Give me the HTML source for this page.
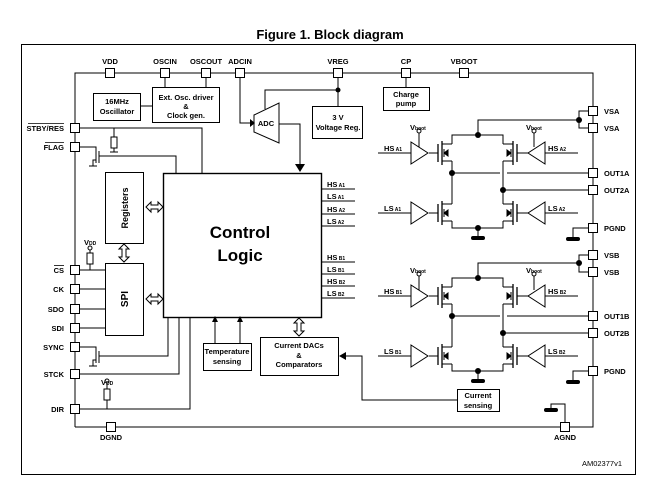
<!DOCTYPE html>
<html><head><meta charset="utf-8"><style>
html,body{margin:0;padding:0;background:#fff;}
svg{display:block;font-family:"Liberation Sans",Arial,sans-serif;font-weight:bold;}
</style></head><body>
<svg width="661" height="488" viewBox="0 0 661 488" xmlns="http://www.w3.org/2000/svg">
<defs>
<g id="fetL">
 <line x1="438" y1="144" x2="438" y2="162" stroke="#000" stroke-width="1.3"/>
 <line x1="442" y1="141" x2="442" y2="165" stroke="#000" stroke-width="1.3"/>
 <polyline points="442,144 452,144" fill="none" stroke="#000"/>
 <polyline points="442,161 452,161" fill="none" stroke="#000"/>
 <line x1="429" y1="153" x2="438" y2="153" stroke="#000"/>
 <polygon points="444,153 448,150 448,156" fill="#000"/>
 <line x1="444" y1="149" x2="444" y2="157" stroke="#000"/>
</g>
<g id="fetR">
 <line x1="517" y1="144" x2="517" y2="162" stroke="#000" stroke-width="1.3"/>
 <line x1="513" y1="141" x2="513" y2="165" stroke="#000" stroke-width="1.3"/>
 <polyline points="513,144 503,144" fill="none" stroke="#000"/>
 <polyline points="513,161 503,161" fill="none" stroke="#000"/>
 <line x1="517" y1="153" x2="528" y2="153" stroke="#000"/>
 <polygon points="511,153 507,150 507,156" fill="#000"/>
 <line x1="511" y1="149" x2="511" y2="157" stroke="#000"/>
</g>
<g id="bridge" stroke="#000" fill="none" stroke-width="1">
 <polyline points="579,120 478,120 478,135"/>
 <polyline points="452,144 452,135 503,135 503,144"/>
 <line x1="452" y1="161" x2="452" y2="204"/>
 <line x1="503" y1="161" x2="503" y2="204"/>
 <polyline points="452,221 452,228 503,228 503,221"/>
 <line x1="452" y1="173" x2="500" y2="173"/>
 <line x1="507" y1="173" x2="588" y2="173"/>
 <line x1="503" y1="190" x2="588" y2="190"/>
 <line x1="478" y1="228" x2="478" y2="236"/>
 <use href="#fetL"/><use href="#fetR"/>
 <use href="#fetL" transform="translate(0,60)"/><use href="#fetR" transform="translate(0,60)"/>
 <polygon points="411,142 411,164 428,153"/>
 <polygon points="545,142 545,164 528,153"/>
 <polygon points="411,202 411,224 428,213"/>
 <polygon points="545,202 545,224 528,213"/>
 <line x1="378" y1="153" x2="411" y2="153"/>
 <line x1="545" y1="153" x2="578" y2="153"/>
 <line x1="378" y1="213" x2="411" y2="213"/>
 <line x1="545" y1="213" x2="578" y2="213"/>
 <line x1="419" y1="133" x2="419" y2="147"/>
 <line x1="534" y1="133" x2="534" y2="147"/>
 <circle cx="419" cy="131" r="2"/><circle cx="534" cy="131" r="2"/>
 <polyline points="588,228 573,228 573,238"/>
</g>
</defs>

<text x="330" y="39" font-size="13" text-anchor="middle">Figure 1. Block diagram</text>
<rect x="21.5" y="44.5" width="614" height="430" fill="none" stroke="#000" stroke-width="1"/>

<g stroke="#000" fill="none" stroke-width="1">
 <polyline points="75,427 75,73 593,73 593,427 75,427"/>
 <rect x="93.5" y="93.5" width="47" height="27"/>
 <rect x="152.5" y="87.5" width="67" height="35"/>
 <line x1="140" y1="106" x2="152" y2="106"/>
 <line x1="165" y1="73" x2="165" y2="87"/>
 <line x1="206" y1="73" x2="206" y2="87"/>
 <polygon points="254,115 279,103 279,143 254,132"/>
 <polyline points="240,73 240,123 252,123"/>
 <polyline points="265,109 265,90 338,90"/>
 <polyline points="279,124 300,124 300,165"/>
 <line x1="338" y1="73" x2="338" y2="106"/>
 <rect x="312.5" y="106.5" width="50" height="32"/>
 <rect x="383.5" y="87.5" width="46" height="23"/>
 <line x1="406" y1="73" x2="406" y2="87"/>
 <polyline points="75,128 202,128 202,173"/>
 <line x1="114" y1="128" x2="114" y2="137"/>
 <rect x="111" y="137" width="6" height="11"/>
 <line x1="114" y1="148" x2="114" y2="152"/><line x1="110" y1="152" x2="118" y2="152"/>
 <polyline points="75,147 96,147 96,151"/>
 <line x1="96" y1="151" x2="96" y2="163"/>
 <line x1="99" y1="151" x2="99" y2="163"/>
 <polyline points="96,160 93,160 93,166"/><line x1="89" y1="166" x2="97" y2="166"/>
 <polyline points="99,156 176,156 176,173"/>
 <rect x="105.5" y="172.5" width="38" height="71"/>
 <rect x="105.5" y="263.5" width="38" height="72"/>
 <rect x="163.5" y="173.5" width="158" height="144" stroke-width="1.4"/>
 <line x1="75" y1="270" x2="105" y2="270"/>
 <line x1="75" y1="289" x2="105" y2="289"/>
 <line x1="75" y1="309" x2="105" y2="309"/>
 <line x1="75" y1="328" x2="105" y2="328"/>
 <line x1="90" y1="250" x2="90" y2="253"/>
 <rect x="87" y="253" width="6" height="11"/>
 <line x1="90" y1="264" x2="90" y2="270"/>
 <circle cx="90" cy="248" r="2"/>
 <polyline points="75,347 96,347 96,351"/>
 <line x1="96" y1="351" x2="96" y2="363"/>
 <line x1="99" y1="351" x2="99" y2="363"/>
 <polyline points="96,360 93,360 93,366"/><line x1="89" y1="366" x2="97" y2="366"/>
 <polyline points="99,356 168,356 168,317"/>
 <polyline points="75,374 179,374 179,317"/>
 <polyline points="75,409 190,409 190,317"/>
 <circle cx="107" cy="381" r="2"/>
 <line x1="107" y1="383" x2="107" y2="389"/>
 <rect x="104" y="389" width="6" height="11"/>
 <line x1="107" y1="400" x2="107" y2="409"/>
 <rect x="203.5" y="343.5" width="48" height="27"/>
 <line x1="215" y1="343" x2="215" y2="320"/>
 <line x1="240" y1="343" x2="240" y2="320"/>
 <rect x="260.5" y="337.5" width="78" height="38"/>
 <polyline points="343,356 362,356 362,400 457,400"/>
 <rect x="457.5" y="389.5" width="42" height="22"/>
 <line x1="321" y1="189" x2="355" y2="189"/>
 <line x1="321" y1="201" x2="355" y2="201"/>
 <line x1="321" y1="214" x2="355" y2="214"/>
 <line x1="321" y1="226" x2="355" y2="226"/>
 <line x1="321" y1="262" x2="355" y2="262"/>
 <line x1="321" y1="274" x2="355" y2="274"/>
 <line x1="321" y1="286" x2="355" y2="286"/>
 <line x1="321" y1="298" x2="355" y2="298"/>
 <polyline points="588,111 579,111 579,128 588,128"/>
 <polyline points="588,255 579,255 579,272 588,272"/>
 <polyline points="565,427 565,404 551,404 551,410"/>
</g>
<polygon points="295,164 305,164 300,172" fill="#000"/>
<polygon points="212,322 218,322 215,316" fill="#000"/>
<polygon points="237,322 243,322 240,316" fill="#000"/>
<polygon points="339,356 346,352 346,360" fill="#000"/>
<polygon points="250,119 255,123 250,127" fill="#000"/>
<circle cx="338" cy="90" r="2.5" fill="#000"/>
<g fill="#fff" stroke="#000">
 <polygon points="146,207 151,202 151,205 158,205 158,202 163,207 158,212 158,209 151,209 151,212"/>
 <polygon points="146,299 151,294 151,297 158,297 158,294 163,299 158,304 158,301 151,301 151,304"/>
 <polygon points="124,244 119,249 122,249 122,257 119,257 124,262 129,257 126,257 126,249 129,249"/>
 <polygon points="299,318 294,323 297,323 297,331 294,331 299,336 304,331 301,331 301,323 304,323"/>
</g>
<use href="#bridge"/>
<use href="#bridge" transform="translate(0,143)"/>
<g fill="#000">
 <circle cx="478" cy="135" r="3"/><circle cx="452" cy="173" r="3"/><circle cx="503" cy="190" r="3"/><circle cx="478" cy="228" r="3"/><circle cx="579" cy="120" r="3"/>
 <circle cx="478" cy="278" r="3"/><circle cx="452" cy="316" r="3"/><circle cx="503" cy="333" r="3"/><circle cx="478" cy="371" r="3"/><circle cx="579" cy="263" r="3"/>
 <rect x="471" y="236" width="14" height="4" rx="2"/><rect x="566" y="237" width="14" height="4" rx="2"/>
 <rect x="471" y="379" width="14" height="4" rx="2"/><rect x="566" y="380" width="14" height="4" rx="2"/>
 <rect x="544" y="408" width="14" height="4" rx="2"/>
</g>
<g fill="#fff" stroke="#000" stroke-width="1">
 <rect x="105.5" y="68.5" width="9" height="9"/><rect x="160.5" y="68.5" width="9" height="9"/><rect x="201.5" y="68.5" width="9" height="9"/><rect x="235.5" y="68.5" width="9" height="9"/><rect x="333.5" y="68.5" width="9" height="9"/><rect x="401.5" y="68.5" width="9" height="9"/><rect x="459.5" y="68.5" width="9" height="9"/>
 <rect x="70.5" y="123.5" width="9" height="9"/><rect x="70.5" y="142.5" width="9" height="9"/><rect x="70.5" y="265.5" width="9" height="9"/><rect x="70.5" y="284.5" width="9" height="9"/><rect x="70.5" y="304.5" width="9" height="9"/><rect x="70.5" y="323.5" width="9" height="9"/><rect x="70.5" y="342.5" width="9" height="9"/><rect x="70.5" y="369.5" width="9" height="9"/><rect x="70.5" y="404.5" width="9" height="9"/>
 <rect x="106.5" y="422.5" width="9" height="9"/><rect x="560.5" y="422.5" width="9" height="9"/>
 <rect x="588.5" y="106.5" width="9" height="9"/><rect x="588.5" y="123.5" width="9" height="9"/><rect x="588.5" y="168.5" width="9" height="9"/><rect x="588.5" y="185.5" width="9" height="9"/><rect x="588.5" y="223.5" width="9" height="9"/>
 <rect x="588.5" y="250.5" width="9" height="9"/><rect x="588.5" y="267.5" width="9" height="9"/><rect x="588.5" y="311.5" width="9" height="9"/><rect x="588.5" y="328.5" width="9" height="9"/><rect x="588.5" y="366.5" width="9" height="9"/>
</g>
<g font-size="7.5" fill="#000">
 <text x="110" y="64" text-anchor="middle">VDD</text>
 <text x="165" y="64" text-anchor="middle">OSCIN</text>
 <text x="206" y="64" text-anchor="middle">OSCOUT</text>
 <text x="240" y="64" text-anchor="middle">ADCIN</text>
 <text x="338" y="64" text-anchor="middle">VREG</text>
 <text x="406" y="64" text-anchor="middle">CP</text>
 <text x="464" y="64" text-anchor="middle">VBOOT</text>
 <text x="64" y="131" text-anchor="end">STBY/RES</text>
 <line x1="28" y1="123.5" x2="64" y2="123.5" stroke="#000" stroke-width="0.8"/>
 <text x="64" y="150" text-anchor="end">FLAG</text>
 <line x1="45" y1="142.5" x2="64" y2="142.5" stroke="#000" stroke-width="0.8"/>
 <text x="64" y="273" text-anchor="end">CS</text>
 <line x1="54" y1="265.5" x2="64" y2="265.5" stroke="#000" stroke-width="0.8"/>
 <text x="64" y="292" text-anchor="end">CK</text>
 <text x="64" y="312" text-anchor="end">SDO</text>
 <text x="64" y="331" text-anchor="end">SDI</text>
 <text x="64" y="350" text-anchor="end">SYNC</text>
 <text x="64" y="377" text-anchor="end">STCK</text>
 <text x="64" y="412" text-anchor="end">DIR</text>
 <text x="111" y="440" text-anchor="middle">DGND</text>
 <text x="565" y="440" text-anchor="middle">AGND</text>
 <text x="604" y="114">VSA</text><text x="604" y="131">VSA</text>
 <text x="604" y="176">OUT1A</text><text x="604" y="193">OUT2A</text><text x="604" y="231">PGND</text>
 <text x="604" y="258">VSB</text><text x="604" y="275">VSB</text>
 <text x="604" y="319">OUT1B</text><text x="604" y="336">OUT2B</text><text x="604" y="374">PGND</text>
 <text x="117" y="104" text-anchor="middle">16MHz</text><text x="117" y="114" text-anchor="middle">Oscillator</text>
 <text x="186" y="100" text-anchor="middle">Ext. Osc. driver</text><text x="186" y="109" text-anchor="middle">&amp;</text><text x="186" y="118" text-anchor="middle">Clock gen.</text>
 <text x="266" y="126" text-anchor="middle">ADC</text>
 <text x="338" y="120" text-anchor="middle">3 V</text><text x="338" y="130" text-anchor="middle">Voltage Reg.</text>
 <text x="406" y="97" text-anchor="middle">Charge</text><text x="406" y="106" text-anchor="middle">pump</text>
 <text x="227" y="354" text-anchor="middle">Temperature</text><text x="227" y="364" text-anchor="middle">sensing</text>
 <text x="299" y="348" text-anchor="middle">Current DACs</text><text x="299" y="358" text-anchor="middle">&amp;</text><text x="299" y="367" text-anchor="middle">Comparators</text>
 <text x="478" y="398" text-anchor="middle">Current</text><text x="478" y="408" text-anchor="middle">sensing</text>
 <text x="622" y="466" text-anchor="end" font-weight="normal">AM02377v1</text>
</g>
<text x="0" y="0" font-size="9" transform="translate(128,208) rotate(-90)" text-anchor="middle">Registers</text>
<text x="0" y="0" font-size="10" transform="translate(128,299) rotate(-90)" text-anchor="middle">SPI</text>
<text x="240" y="238" font-size="17" text-anchor="middle">Control</text>
<text x="240" y="261" font-size="17" text-anchor="middle">Logic</text>
<g font-size="7.5">
 <text x="84" y="245">V<tspan font-size="5">DD</tspan></text>
 <text x="101" y="385">V<tspan font-size="5">DD</tspan></text>
 <text x="327" y="187">HS<tspan font-size="5"> A1</tspan></text>
 <text x="327" y="199">LS<tspan font-size="5"> A1</tspan></text>
 <text x="327" y="212">HS<tspan font-size="5"> A2</tspan></text>
 <text x="327" y="224">LS<tspan font-size="5"> A2</tspan></text>
 <text x="327" y="260">HS<tspan font-size="5"> B1</tspan></text>
 <text x="327" y="272">LS<tspan font-size="5"> B1</tspan></text>
 <text x="327" y="284">HS<tspan font-size="5"> B2</tspan></text>
 <text x="327" y="296">LS<tspan font-size="5"> B2</tspan></text>
 <text x="384" y="151">HS<tspan font-size="5"> A1</tspan></text>
 <text x="548" y="151">HS<tspan font-size="5"> A2</tspan></text>
 <text x="384" y="211">LS<tspan font-size="5"> A1</tspan></text>
 <text x="548" y="211">LS<tspan font-size="5"> A2</tspan></text>
 <text x="384" y="294">HS<tspan font-size="5"> B1</tspan></text>
 <text x="548" y="294">HS<tspan font-size="5"> B2</tspan></text>
 <text x="384" y="354">LS<tspan font-size="5"> B1</tspan></text>
 <text x="548" y="354">LS<tspan font-size="5"> B2</tspan></text>
 <text x="410" y="130">V<tspan font-size="5">boot</tspan></text>
 <text x="526" y="130">V<tspan font-size="5">boot</tspan></text>
 <text x="410" y="273">V<tspan font-size="5">boot</tspan></text>
 <text x="526" y="273">V<tspan font-size="5">boot</tspan></text>
</g>
</svg>
</body></html>
